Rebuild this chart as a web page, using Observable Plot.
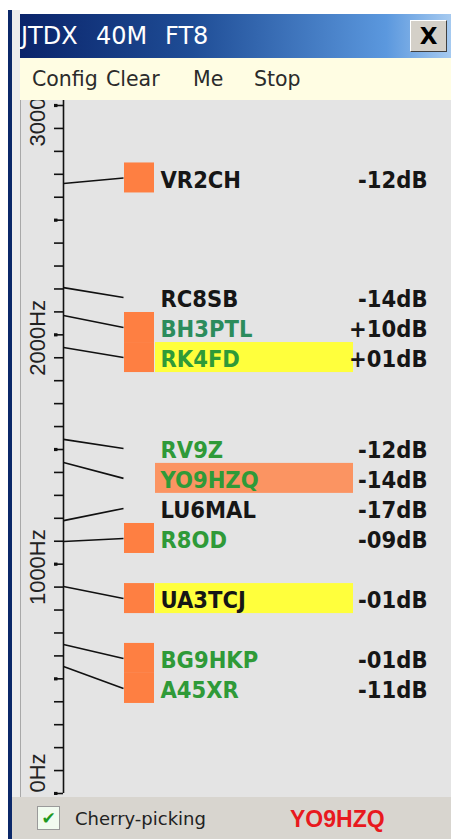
<!DOCTYPE html>
<html><head><meta charset="utf-8">
<script src="https://cdn.jsdelivr.net/npm/d3@7"></script>
<script src="https://cdn.jsdelivr.net/npm/@observablehq/plot@0.6"></script>
<style>
html,body{margin:0;padding:0;background:#fff;}
#win{position:relative;width:451px;height:839px;overflow:hidden;background:#fff;font-family:"DejaVu Sans",sans-serif;}
#navy{position:absolute;left:8px;top:10px;width:4px;height:829px;background:#0b2869;}
#frame{position:absolute;left:12px;top:10px;width:8px;height:829px;background:#ececec;}
#title{position:absolute;left:20px;top:14px;width:431px;height:44px;background:linear-gradient(90deg,#0a246a 0%,#1f4d96 40%,#5b98de 85%,#a6caf0 100%);color:#fff;font-size:24px;line-height:44px;white-space:pre;}
#title span{position:absolute;top:0;}
#close{position:absolute;left:410px;top:20px;width:37px;height:32px;box-sizing:border-box;background:#d4d0c8;border:1px solid;border-color:#fff #404040 #404040 #fff;color:#000;font:bold 23px "DejaVu Sans",sans-serif;text-align:center;line-height:30px;}
#menu{position:absolute;left:20px;top:58px;width:431px;height:42px;background:#fffde3;color:#2b2b2b;font-size:20.5px;line-height:42px;white-space:pre;}
#menu span{position:absolute;top:0;}
#panel{position:absolute;left:20px;top:100px;width:431px;height:697px;background:#e4e4e4;border-left:1.5px solid #a8a8a8;box-sizing:border-box;}
#chart{position:absolute;left:0;top:100px;width:451px;height:695px;}
#status{position:absolute;left:12px;top:797px;width:439px;height:42px;background:#d8d5cf;font-size:18px;color:#222;}
#chk{position:absolute;left:25px;top:9px;width:23px;height:24px;box-sizing:border-box;background:#f2fbf0;border:1px solid #9a9a9a;color:#1f9a1f;font-size:17px;line-height:22px;text-align:center;}
#cp{position:absolute;left:63px;top:2px;line-height:40px;}
#me{position:absolute;left:278px;top:2px;color:#e8191e;font:bold 23px "Liberation Sans",sans-serif;line-height:40px;}
</style></head><body>
<div id="win">
  <div id="frame"></div>
  <div id="navy"></div>
  <div id="title"><span style="left:1px">JTDX</span><span style="left:76px">40M</span><span style="left:145px">FT8</span></div>
  <div id="close">X</div>
  <div id="menu"><span style="left:12px">Config</span><span style="left:86px">Clear</span><span style="left:173px">Me</span><span style="left:234px">Stop</span></div>
  <div id="panel"></div>
  <div id="chart"></div>
  <div id="status"><div id="chk">✔</div><span id="cp">Cherry-picking</span><span id="me">YO9HZQ</span></div>
</div>
<script>
const calls    = ["VR2CH","RC8SB","BH3PTL","RK4FD","RV9Z","YO9HZQ","LU6MAL","R8OD","UA3TCJ","BG9HKP","A45XR"];
const freqHz   = [2660, 2206, 2084, 1945, 1544, 1443, 1190, 1099, 903, 650, 554];   // audio frequency on the ruler
const slotHz   = [2684, 2163, 2032, 1901, 1504, 1374, 1243, 1112, 850, 589, 458];   // where each label row sits
const snrDb    = [-12, -14, 10, 1, -12, -14, -17, -9, -1, -1, -11];
const status   = ["worked","worked","newGrid","new","new","new","worked","new","worked","new","new"];
const txFlag   = [true, false, true, true, false, false, false, true, true, true, true];
const rowMark  = ["", "", "", "cq", "", "mine", "", "", "cq", "", ""];
const rulerTicks  = d3.range(0, 3001, 100);
const rulerLabels = [3000, 2000, 1000, 0];

// ---- styles / layout ----
const statusColor = {worked: "#161616", new: "#2f9a38", newGrid: "#2c8c5c"};
const markColor = {cq: "#ffff3c", mine: "#fb9462"};
const flagColor = "#fe7f42";
const COL = {label: 37, tickL: 54, axis: 63, lineEnd: 123, flagL: 124, flagR: 154, hiL: 155, hiR: 353, call: 160, snr: 427};
const HALF = 65.4; // half a label row, in Hz
const callFont = '"DejaVu Sans Condensed",sans-serif';

const rows = calls.map((c, i) => ({call: c, freq: freqHz[i], slot: slotHz[i], snr: snrDb[i], status: status[i], tx: txFlag[i], mark: rowMark[i]}));
const fmt = v => (v >= 0 ? "+" : "-") + String(Math.abs(v)).padStart(2, "0") + "dB";

const chart = Plot.plot({
  width: 451, height: 695,
  marginLeft: 0, marginRight: 0, marginTop: 5, marginBottom: 2,
  x: {domain: [0, 451], range: [0, 451], axis: null},
  y: {domain: [0, 3000], axis: null},
  style: {background: "transparent", overflow: "hidden"},
  marks: [
    Plot.rect(rows.filter(d => d.mark), {x1: COL.hiL, x2: COL.hiR, y1: d => d.slot - HALF, y2: d => d.slot + HALF, fill: d => markColor[d.mark]}),
    Plot.rect(rows.filter(d => d.tx), {x1: COL.flagL, x2: COL.flagR, y1: d => d.slot - HALF, y2: d => d.slot + HALF, fill: flagColor}),
    Plot.ruleY(rulerTicks, {x1: COL.tickL, x2: COL.axis, stroke: "#111", strokeWidth: 1.6}),
    Plot.ruleY(rulerTicks.filter(v => v % 500 === 0), {x1: COL.tickL, x2: COL.tickL + 3.5, stroke: "#111", strokeWidth: 3.2}),
    Plot.ruleX([COL.axis], {y1: 0, y2: 3040, stroke: "#111", strokeWidth: 1.6}),
    Plot.text(rulerLabels.filter(v => v > 0), {x: COL.label, y: d => d, text: d => `${d}Hz`, rotate: -90, fontSize: 22, fontFamily: '"Liberation Sans",sans-serif', fill: "#222", dy: 3}),
    Plot.text(rulerLabels.filter(v => v === 0), {x: COL.label, y: d => d, text: d => `${d}Hz`, rotate: -90, textAnchor: "start", fontSize: 22, fontFamily: '"Liberation Sans",sans-serif', fill: "#222", dy: -1}),
    Plot.link(rows, {x1: COL.axis, y1: "freq", x2: COL.lineEnd, y2: "slot", stroke: "#111", strokeWidth: 1.6}),
    Plot.text(rows, {x: COL.call, y: "slot", text: "call", textAnchor: "start", fill: d => statusColor[d.status], fontSize: 23.5, fontWeight: "bold", fontFamily: callFont, dy: 2}),
    Plot.text(rows, {x: COL.snr, y: "slot", text: d => fmt(d.snr), textAnchor: "end", fill: "#161616", fontSize: 23.5, fontWeight: "bold", fontFamily: callFont, dy: 2})
  ]
});
document.getElementById("chart").appendChild(chart);
</script>
</body></html>
